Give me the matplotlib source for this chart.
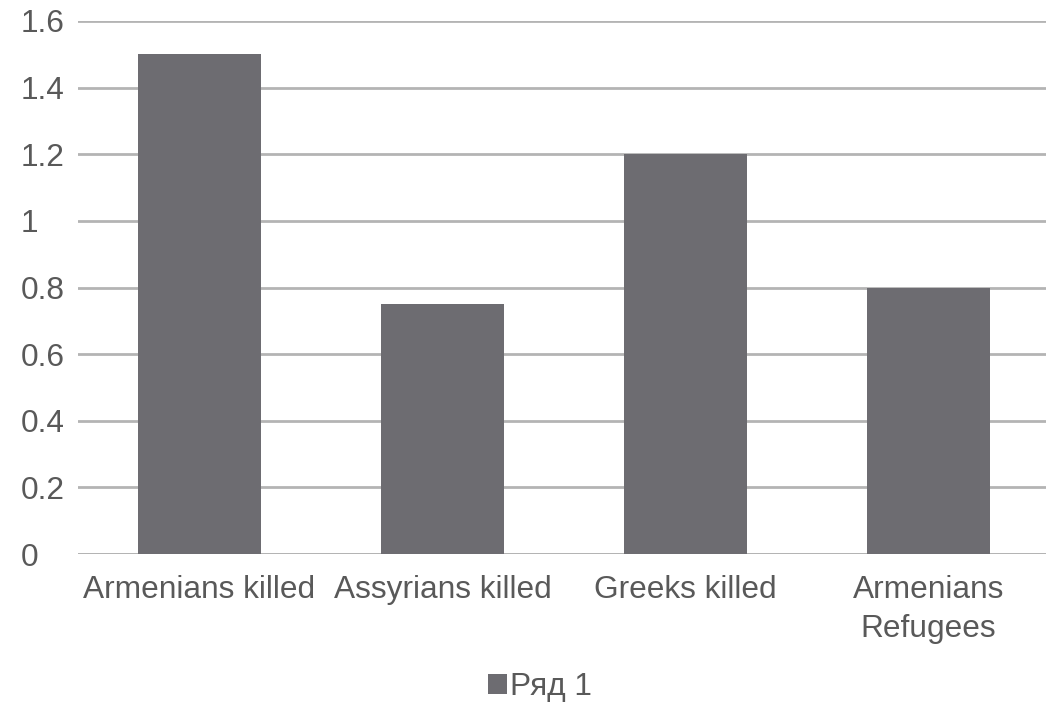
import matplotlib
matplotlib.use("Agg")
from matplotlib import pyplot as plt

# data
categories = ["Armenians killed", "Assyrians killed", "Greeks killed", "Armenians\nRefugees"]
values = [1.5, 0.75, 1.2, 0.8]
series_name = "Ряд 1"
y_ticks = [0, 0.2, 0.4, 0.6, 0.8, 1, 1.2, 1.4, 1.6]
y_tick_labels = ["0", "0.2", "0.4", "0.6", "0.8", "1", "1.2", "1.4", "1.6"]

bar_color = "#6d6c71"
grid_color = "#b4b4b4"
text_color = "#595959"

plt.rcParams["font.family"] = ["Liberation Sans", "DejaVu Sans"]

W, H = 1046, 702
fig = plt.figure(figsize=(W / 100, H / 100), dpi=100)
# axes placed in pixel terms; right side runs past the image edge like the reference
ax = fig.add_axes([78 / W, 1 - 554 / H, 972 / W, 533 / H])

x = range(len(categories))
ax.bar(x, values, width=0.506, color=bar_color, label=series_name, zorder=3)

ax.set_xlim(-0.5, len(categories) - 0.5)
ax.set_ylim(0, 1.6)
ax.set_yticks(y_ticks)
ax.set_yticklabels(y_tick_labels, ha="left")
ax.set_xticks(list(x))
ax.set_xticklabels(categories, linespacing=1.4)

ax.yaxis.grid(True, color=grid_color, linewidth=2, zorder=0)
ax.set_axisbelow(True)
for side in ["top", "right", "left", "bottom"]:
    ax.spines[side].set_visible(False)
ax.axhline(0, color=grid_color, linewidth=2, zorder=2)

ax.tick_params(axis="y", length=0, pad=41, labelsize=22.8, labelcolor=text_color)
ax.tick_params(axis="x", length=0, pad=15, labelsize=22.8, labelcolor=text_color)

leg = fig.legend(loc="center", bbox_to_anchor=(540 / W, 1 - 687 / H), frameon=False,
                 fontsize=22.8, handlelength=0.6, handleheight=0.6, handletextpad=0.1,
                 borderpad=0.1, labelcolor=text_color)

fig.savefig("out.png", dpi=100)
